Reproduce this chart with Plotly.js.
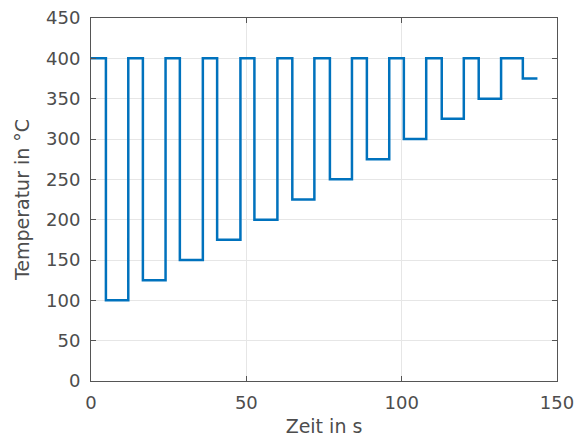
<!DOCTYPE html>
<html>
<head>
<meta charset="utf-8">
<script src="https://cdn.plot.ly/plotly-3.0.1.min.js"></script>
<style>html,body{margin:0;padding:0;background:#fff;}#chart{width:579px;height:439px;}</style>
</head>
<body>
<div id="chart"></div>
<script>
const timeS = [0, 4.8, 12.0, 16.7, 24.0, 28.6, 36.0, 40.6, 48.1, 52.6, 60.0, 64.8, 71.9, 76.9, 84.0, 88.8, 96.0, 100.7, 107.9, 112.9, 120.0, 124.8, 132.0, 139.0, 143.7];
const tempC = [400, 100, 400, 125, 400, 150, 400, 175, 400, 200, 400, 225, 400, 250, 400, 275, 400, 300, 400, 325, 400, 350, 400, 375, 375];
const xTicks = [0, 50, 100, 150];
const yTicks = [0, 50, 100, 150, 200, 250, 300, 350, 400, 450];

const fontFam = 'DejaVu Sans, Liberation Sans, Arial, sans-serif';
const axisCommon = {
  showline: true, linecolor: '#555', linewidth: 1, mirror: 'ticks',
  ticks: 'inside', ticklen: 5, tickcolor: '#555', tickwidth: 1,
  showgrid: true, gridcolor: '#e6e6e6', gridwidth: 1, zeroline: false,
  tickfont: {family: fontFam, size: 18, color: '#4d4d4d'},
  tickmode: 'array'
};
const layout = {
  width: 579, height: 439,
  margin: {l: 91, r: 22, t: 18, b: 58, pad: 0},
  paper_bgcolor: '#fff', plot_bgcolor: '#fff',
  showlegend: false,
  xaxis: Object.assign({}, axisCommon, {
    range: [0, 150], tickvals: xTicks, ticktext: xTicks.map(String),
    ticklabelstandoff: 5,
    title: {text: 'Zeit in s', font: {family: fontFam, size: 19, color: '#4d4d4d'}, standoff: 8}
  }),
  yaxis: Object.assign({}, axisCommon, {
    range: [0, 450], tickvals: yTicks, ticktext: yTicks.map(String),
    ticklabelstandoff: 6,
    title: {text: 'Temperatur in °C', font: {family: fontFam, size: 19, color: '#4d4d4d'}, standoff: 11}
  })
};
const data = [{
  x: timeS, y: tempC, type: 'scatter', mode: 'lines',
  line: {shape: 'hv', color: '#0072BD', width: 2.5},
  cliponaxis: false
}];
Plotly.newPlot('chart', data, layout, {displayModeBar: false, staticPlot: true});
</script>
</body>
</html>
